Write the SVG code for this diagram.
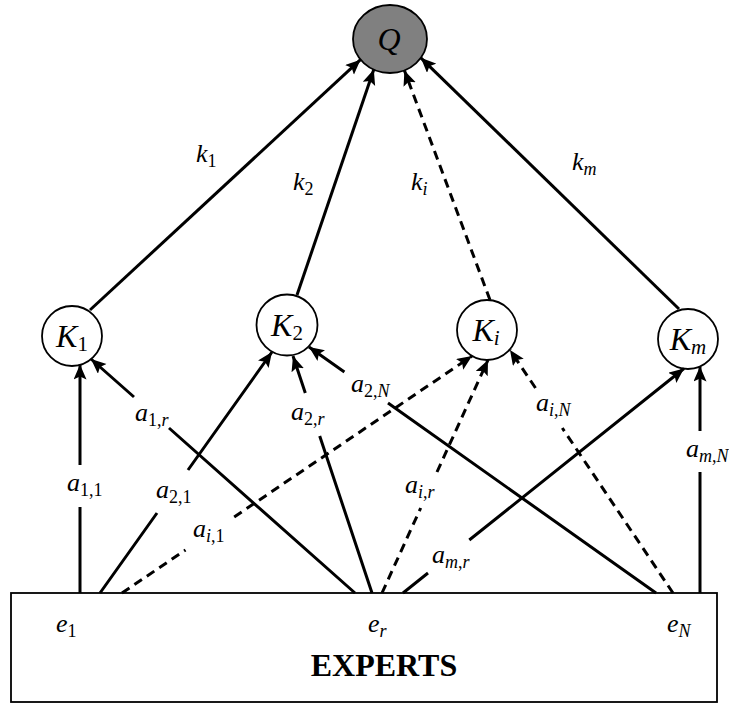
<svg xmlns="http://www.w3.org/2000/svg" width="729" height="704" viewBox="0 0 729 704">
  <style>
    .edge { fill: none; stroke: #000; stroke-width: 3; marker-end: url(#head); }
    .dash { stroke-dasharray: 9 6; }
    .node { fill: #fff; stroke: #000; stroke-width: 1.8; }
    .t { font-family: "Liberation Serif", "Times New Roman", serif; font-style: italic; fill: #000; }
    .a { font-size: 26px; }
    .s { font-size: 18px; }
    .big { font-size: 32px; }
    .bs { font-size: 21px; }
    .up { font-style: normal; }
    .title { font-family: "Liberation Serif", "Times New Roman", serif; font-weight: bold; font-size: 32px; }
  </style>
  <defs>
    <marker id="head" markerUnits="userSpaceOnUse" markerWidth="16" markerHeight="14" refX="15" refY="6.5" orient="auto">
      <path d="M0,0 L15,6.5 L0,13 L3,6.5 Z" fill="#000"/>
    </marker>
  </defs>

  <rect width="729" height="704" fill="#fff"/>

  <!-- expert pool -->
  <g id="experts">
    <rect class="node" x="11" y="593" width="706" height="109"/>
    <text class="t a" x="56" y="632">e<tspan class="s up" dy="5">1</tspan></text>
    <text class="t a" x="368" y="632">e<tspan class="s" dy="5">r</tspan></text>
    <text class="t a" x="667" y="632">e<tspan class="s" dy="5">N</tspan></text>
    <text class="title" x="384" y="676" text-anchor="middle">EXPERTS</text>
  </g>

  <!-- aggregate -->
  <g id="Q">
    <ellipse cx="390" cy="39" rx="37" ry="34" fill="#808080" stroke="#000" stroke-width="1.8"/>
    <text class="t big" x="389" y="50" text-anchor="middle" fill="#1a1a1a">Q</text>
  </g>

  <g id="K1">
    <circle class="node" cx="72" cy="336" r="30"/>
    <text class="t big" x="72" y="347" text-anchor="middle">K<tspan class="bs up" dy="4">1</tspan></text>
  </g>
  <g id="K2">
    <circle class="node" cx="287" cy="325" r="30.5"/>
    <text class="t big" x="287" y="336" text-anchor="middle">K<tspan class="bs up" dy="4">2</tspan></text>
  </g>
  <g id="Ki">
    <circle class="node" cx="487" cy="330" r="30"/>
    <text class="t big" x="486" y="341" text-anchor="middle">K<tspan class="bs" dy="4">i</tspan></text>
  </g>
  <g id="Km">
    <circle class="node" cx="688" cy="339" r="30"/>
    <text class="t big" x="688" y="350" text-anchor="middle">K<tspan class="bs" dy="4">m</tspan></text>
  </g>

  <g id="connectors">
    <!-- knowledge weights into Q -->
    <path class="edge" d="M90,310 L360.5,59.7"/>
    <path class="edge" d="M297,295 L373.8,69.6"/>
    <path class="edge dash" d="M490,300 L404.4,70.4"/>
    <path class="edge" d="M679,309 L420.8,57.8"/>

    <!-- expert assessments into K nodes, broken where labelled -->
    <path class="edge" d="M80,593 L80,507 M80,465 L80,364.6"/>
    <path class="edge" d="M355,593 L169,428 M134,397 L91,359"/>
    <path class="edge" d="M100,593 L157,513 M188,470 L272,352"/>
    <path class="edge" d="M372,593 L319.7,436 M305.3,393 L293,356"/>
    <path class="edge" d="M656,593 L388,403 M344.4,372 L309,347"/>
    <path class="edge dash" d="M122,593 L185.5,550 M234.2,517 L472,356"/>
    <path class="edge dash" d="M382,593 L420.7,508 M437,472 L488,360"/>
    <path class="edge dash" d="M673,593 L562.3,428 M535.5,388 L510,350"/>
    <path class="edge" d="M403,593 L428,573 M469.3,540 L684,368.5"/>
    <path class="edge" d="M700,593 L700,472 M700,431 L700,366.5"/>
  </g>

  <g id="labels">
    <text class="t a" x="196" y="162">k<tspan class="s up" dy="5">1</tspan></text>
    <text class="t a" x="293" y="190">k<tspan class="s up" dy="5">2</tspan></text>
    <text class="t a" x="411" y="190">k<tspan class="s" dy="5">i</tspan></text>
    <text class="t a" x="572" y="170">k<tspan class="s" dy="5">m</tspan></text>

    <text class="t a" x="67" y="491">a<tspan class="s up" dy="5">1,1</tspan></text>
    <text class="t a" x="135" y="421">a<tspan class="s" dy="5"><tspan class="up">1,</tspan>r</tspan></text>
    <text class="t a" x="156" y="498">a<tspan class="s up" dy="5">2,1</tspan></text>
    <text class="t a" x="291" y="420">a<tspan class="s" dy="5"><tspan class="up">2,</tspan>r</tspan></text>
    <text class="t a" x="351" y="392">a<tspan class="s" dy="5"><tspan class="up">2,</tspan>N</tspan></text>
    <text class="t a" x="193" y="537">a<tspan class="s" dy="5">i<tspan class="up">,1</tspan></tspan></text>
    <text class="t a" x="405" y="493">a<tspan class="s" dy="5">i<tspan class="up">,</tspan>r</tspan></text>
    <text class="t a" x="536" y="411">a<tspan class="s" dy="5">i<tspan class="up">,</tspan>N</tspan></text>
    <text class="t a" x="432" y="563">a<tspan class="s" dy="5">m<tspan class="up">,</tspan>r</tspan></text>
    <text class="t a" x="686" y="457">a<tspan class="s" dy="5">m<tspan class="up">,</tspan>N</tspan></text>
  </g>
</svg>
